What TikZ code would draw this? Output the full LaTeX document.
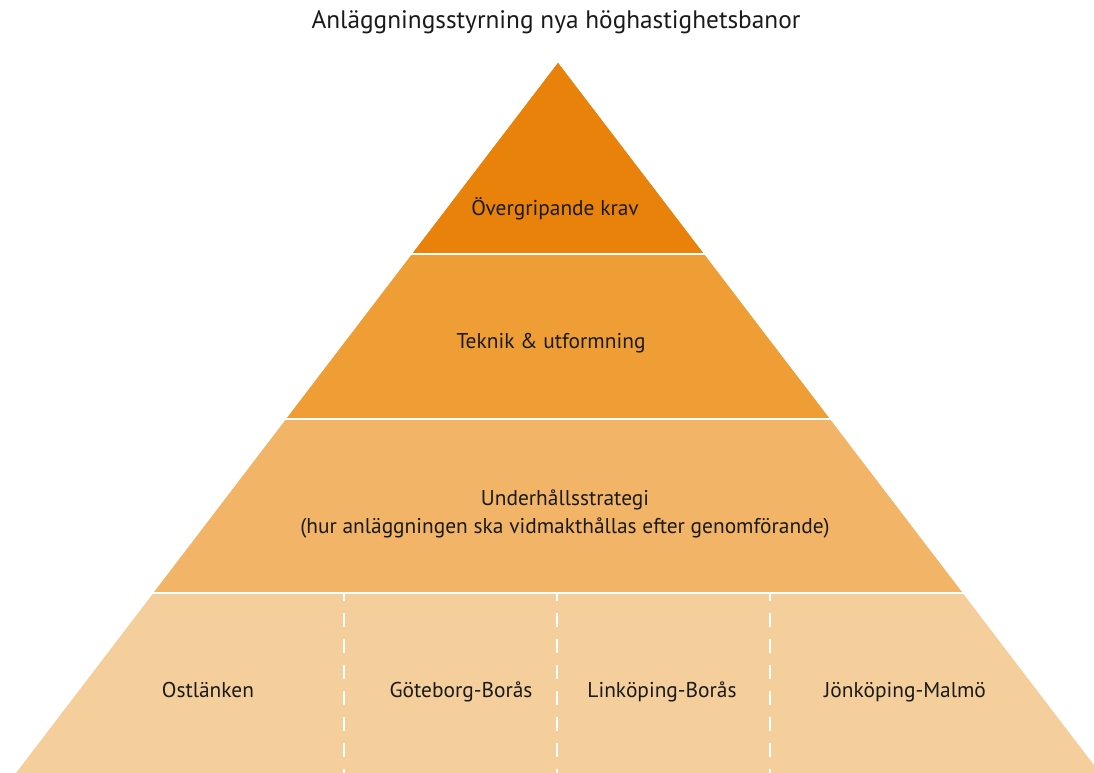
\documentclass[tikz,border=0pt]{standalone}
\usepackage{fontspec}
\setmainfont{PT Sans}
\usepackage{xcolor}
\usepackage{tikz}
\usetikzlibrary{calc}
\definecolor{levelone}{HTML}{E8820A}
\definecolor{leveltwo}{HTML}{EE9E34}
\definecolor{levelthree}{HTML}{F2B567}
\definecolor{levelfour}{HTML}{F5CF9B}
\definecolor{txtcolor}{HTML}{1A1A1A}
\tikzset{
    band/.style     = {draw=none},
    gapline/.style  = {white, line width=2pt},
    splitline/.style= {white, line width=2pt, dash pattern=on 14pt off 12pt, dash phase=6pt},
    lvllbl/.style   = {font=\fontsize{21.4}{28}\selectfont, text=txtcolor, align=center, inner sep=0pt},
    routelbl/.style = {lvllbl, anchor=base},
    titlelbl/.style = {font=\fontsize{25.3}{30}\selectfont, text=txtcolor, inner sep=0pt},
}

\begin{document}
\begin{tikzpicture}[x=1pt, y=-1pt]
\useasboundingbox (0,0) rectangle (1094,773);
\clip (0,0) rectangle (1094,773);

% corners of the pyramid
\coordinate (apex) at (558,63);
\coordinate (baseL) at (16,773);
\coordinate (baseR) at (1100,773);

% bands, top to bottom
\fill[band, levelfour]  (apex) -- (baseL) -- (baseR) -- cycle;
\fill[band, levelthree] (apex) -- ($(apex)!0.7465!(baseL)$) -- ($(apex)!0.7465!(baseR)$) -- cycle;
\fill[band, leveltwo]   (apex) -- ($(apex)!0.5014!(baseL)$) -- ($(apex)!0.5014!(baseR)$) -- cycle;
\fill[band, levelone]   (apex) -- ($(apex)!0.2690!(baseL)$) -- ($(apex)!0.2690!(baseR)$) -- cycle;

% white gaps between bands
\foreach \yy in {254, 419, 593}
    \draw[gapline] (0,\yy) -- (1094,\yy);

% dashed splits of the bottom band
\foreach \xx in {344, 557, 770}
    \draw[splitline] (\xx,593) -- (\xx,773);

\node[titlelbl] (title) at (556,22) {Anläggningsstyrning nya höghastighetsbanor};

\node[lvllbl] (krav)    at (555,209) {Övergripande krav};
\node[lvllbl] (teknik)  at (551,343) {Teknik \& utformning};
\node[lvllbl] (strat)   at (565,514) {Underhållsstrategi\\(hur anläggningen ska vidmakthållas efter genomförande)};

\node[routelbl] (ost)   at (208,697) {Ostlänken};
\node[routelbl] (gbg)   at (461,697) {Göteborg-Borås};
\node[routelbl] (lkp)   at (662,697) {Linköping-Borås};
\node[routelbl] (jkp)   at (905,697) {Jönköping-Malmö};

\end{tikzpicture}
\end{document}
